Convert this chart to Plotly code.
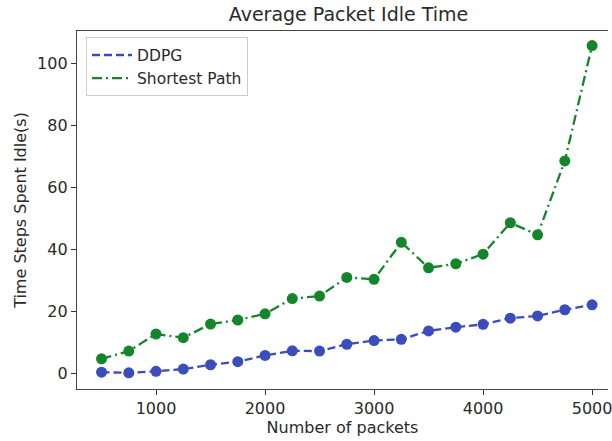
import plotly.graph_objects as go

packets = [500, 750, 1000, 1250, 1500, 1750, 2000, 2250, 2500, 2750,
           3000, 3250, 3500, 3750, 4000, 4250, 4500, 4750, 5000]
ddpg = [0.5, 0.3, 0.8, 1.5, 2.9, 3.9, 5.9, 7.4, 7.3, 9.5,
        10.7, 11.1, 13.8, 15.0, 15.9, 17.9, 18.6, 20.6, 22.2]
shortest = [4.8, 7.3, 12.8, 11.6, 16.0, 17.3, 19.3, 24.2, 25.0, 31.0,
            30.4, 42.3, 34.1, 35.4, 38.5, 48.6, 44.7, 68.5, 105.6]
x_ticks = [1000, 2000, 3000, 4000, 5000]
y_ticks = [0, 20, 40, 60, 80, 100]

BLUE = "#3b4cbc"
GREEN = "#15852c"
FONT = "DejaVu Sans"
TXT = "#2a2a2a"
DASH_B = "8px,4px"
DASH_G = "10px,4px,2px,4px"

fig = go.Figure()
fig.add_trace(go.Scatter(x=packets, y=ddpg, mode="lines+markers", showlegend=False,
                         line=dict(color=BLUE, width=2.3, dash=DASH_B),
                         marker=dict(color=BLUE, size=11)))
fig.add_trace(go.Scatter(x=packets, y=shortest, mode="lines+markers", showlegend=False,
                         line=dict(color=GREEN, width=2.3, dash=DASH_G),
                         marker=dict(color=GREEN, size=11)))
# legend entries (line only)
fig.add_trace(go.Scatter(x=[None], y=[None], mode="lines", name="DDPG",
                         line=dict(color=BLUE, width=2.3, dash=DASH_B)))
fig.add_trace(go.Scatter(x=[None], y=[None], mode="lines", name="Shortest Path",
                         line=dict(color=GREEN, width=2.3, dash=DASH_G)))

fig.update_layout(
    width=612, height=441,
    margin=dict(l=77, r=0, t=31, b=52),
    paper_bgcolor="white", plot_bgcolor="white",
    font=dict(family=FONT, size=16, color=TXT),
    title=dict(text="Average Packet Idle Time", x=348.5 / 612, xanchor="center",
               xref="container",
               y=1 - 14 / 441, yanchor="middle", font=dict(size=19, color=TXT)),
    legend=dict(x=0.017, y=0.982, xanchor="left", yanchor="top",
                bgcolor="rgba(255,255,255,0.85)", bordercolor="#cccccc", borderwidth=1,
                font=dict(size=15.5), tracegroupgap=0, itemwidth=40),
    xaxis=dict(range=[275, 5146], tickvals=x_ticks, ticks="outside", ticklen=5,
               tickcolor="#333333", showgrid=False, zeroline=False,
               showline=True, linecolor="#444444", linewidth=1.3, mirror=True,
               ticklabeloverflow="allow",
               title=dict(text="Number of packets", font=dict(size=16), standoff=4),
               tickfont=dict(size=16)),
    yaxis=dict(range=[-4.9, 110.3], tickvals=y_ticks, ticks="outside", ticklen=5,
               tickcolor="#333333", showgrid=False, zeroline=False,
               showline=True, linecolor="#444444", linewidth=1.3, mirror=False,
               title=dict(text="Time Steps Spent Idle(s)", font=dict(size=16), standoff=6),
               tickfont=dict(size=16)),
)

fig.write_html("out.html", config={"displayModeBar": False},
               post_script="document.body.style.margin='0';")
